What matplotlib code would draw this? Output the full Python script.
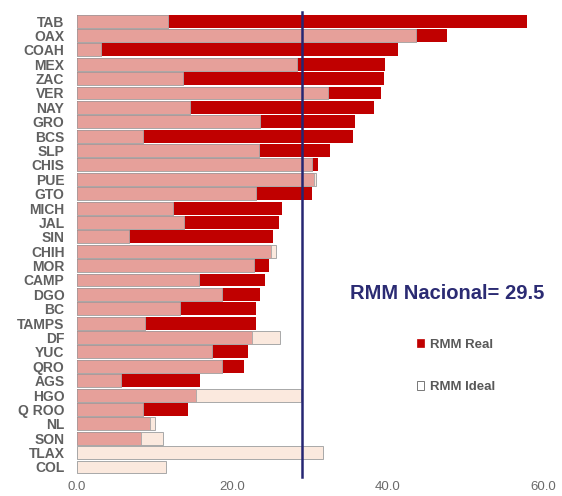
import matplotlib
matplotlib.use("Agg")
import matplotlib.pyplot as plt
from matplotlib.patches import Patch
import numpy as np

states = ["TAB", "OAX", "COAH", "MEX", "ZAC", "VER", "NAY", "GRO", "BCS", "SLP",
          "CHIS", "PUE", "GTO", "MICH", "JAL", "SIN", "CHIH", "MOR", "CAMP", "DGO",
          "BC", "TAMPS", "DF", "YUC", "QRO", "AGS", "HGO", "Q ROO", "NL", "SON",
          "TLAX", "COL"]
rmm_real = [58.0, 47.7, 41.3, 39.7, 39.5, 39.1, 38.2, 35.8, 35.6, 32.6,
            31.0, 30.5, 30.3, 26.4, 26.0, 25.2, 25.0, 24.7, 24.2, 23.6,
            23.1, 23.0, 22.6, 22.0, 21.5, 15.8, 15.3, 14.3, 9.4, 8.3,
            0.0, 0.0]
rmm_ideal = [11.7, 43.6, 3.1, 28.3, 13.6, 32.3, 14.5, 23.6, 8.5, 23.4,
             30.3, 30.8, 23.0, 12.4, 13.8, 6.7, 25.6, 22.8, 15.7, 18.7,
             13.3, 8.7, 26.1, 17.4, 18.7, 5.7, 28.8, 8.5, 10.0, 11.1,
             31.7, 11.4]
nacional_label = 29.5      # value printed in the annotation
nacional_line = 29.0       # where the reference line sits on the axis
xticks = [0, 20, 40, 60]

plt.rcParams['font.family'] = ['Liberation Sans', 'DejaVu Sans']

fig = plt.figure(figsize=(5.62, 4.96), dpi=100)
ax = fig.add_axes([0.137, 0.044, 0.829, 0.928])

y = np.arange(len(states))
real = np.array(rmm_real)
ideal = np.array(rmm_ideal)
overlap = np.minimum(real, ideal)

red = "#C00000"
salmon = "#E6A09A"
cream = "#FBE9DE"
edge = "#A8A8A8"
h = 0.9

ax.barh(y, ideal, height=h, color=cream, edgecolor=edge, linewidth=0.7, zorder=2)
ax.barh(y, real, height=h, color=red, edgecolor="none", linewidth=0, zorder=3)
ax.barh(y, overlap, height=h, color=salmon, edgecolor=edge, linewidth=0.6, zorder=4)

ax.plot([nacional_line, nacional_line], [len(states) - 0.3, -0.65], color="#262673",
        lw=1.8, zorder=6, clip_on=False)

ax.set_xlim(0, 60)
ax.set_ylim(len(states) - 0.5, -0.5)
ax.set_yticks(y)
ax.set_yticklabels(states, fontsize=10, fontweight="bold", color="#606060")
ax.set_xticks(xticks)
ax.set_xticklabels([f"{v:.1f}" for v in xticks], fontsize=9.5, color="#6A6A6A")
ax.tick_params(axis="both", length=0)
ax.tick_params(axis="y", pad=9)
ax.tick_params(axis="x", pad=5)
for s in ax.spines.values():
    s.set_visible(False)

fig.text(0.795, 0.409, "RMM Nacional= " + f"{nacional_label}", fontsize=14.5,
         fontweight="bold", color="#2B2B73", ha="center", va="center")

handles = [Patch(facecolor=red, edgecolor=red, linewidth=0.5, label="RMM Real"),
           Patch(facecolor="white", edgecolor="#777777", linewidth=0.7, label="RMM Ideal")]
leg = fig.legend(handles=handles, loc="center left", bbox_to_anchor=(0.72, 0.262),
                 frameon=False, handlelength=0.6, handleheight=0.6, handletextpad=0.4,
                 labelspacing=2.3, prop={"size": 9.5, "weight": "bold"})
for t in leg.get_texts():
    t.set_color("#595959")

fig.savefig("out.png", dpi=100)
